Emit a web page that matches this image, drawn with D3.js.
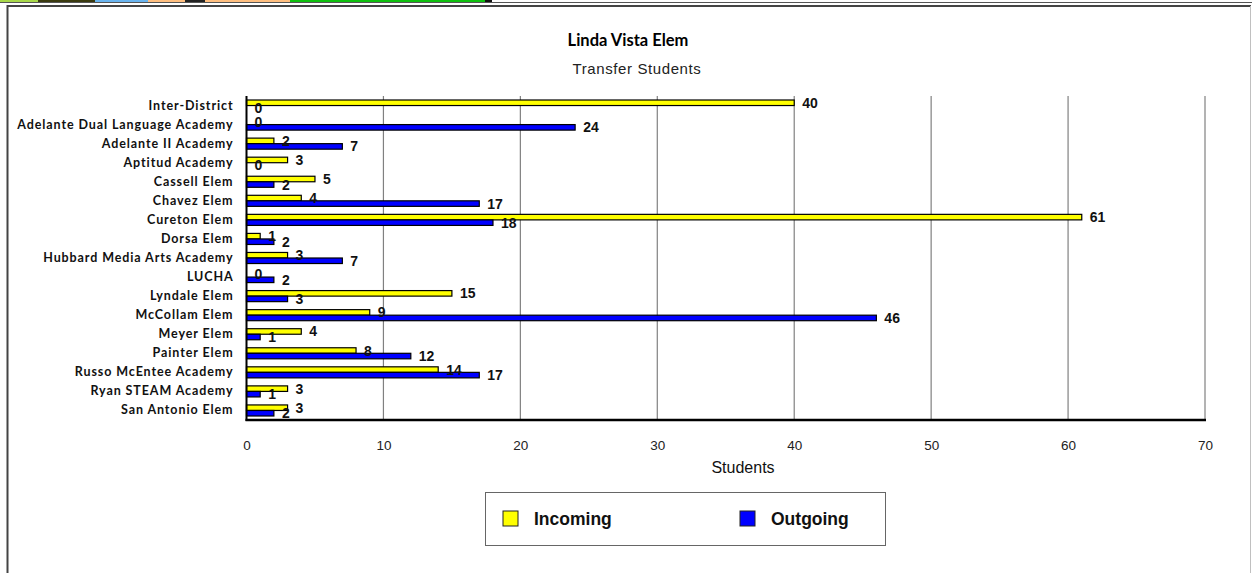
<!DOCTYPE html>
<html><head><meta charset="utf-8">
<script src="https://cdn.jsdelivr.net/npm/d3@7"></script>
<style>html,body{margin:0;padding:0;background:#fff;}svg{display:block;}</style>
</head><body>
<svg id="c" width="1252" height="573"></svg>
<script>
const categories = ["Inter-District","Adelante Dual Language Academy","Adelante II Academy","Aptitud Academy","Cassell Elem","Chavez Elem","Cureton Elem","Dorsa Elem","Hubbard Media Arts Academy","LUCHA","Lyndale Elem","McCollam Elem","Meyer Elem","Painter Elem","Russo McEntee Academy","Ryan STEAM Academy","San Antonio Elem"];
const incoming = [40,0,2,3,5,4,61,1,3,0,15,9,4,8,14,3,3];
const outgoing = [0,24,7,0,2,17,18,2,7,2,3,46,1,12,17,1,2];
const seriesNames = ["Incoming","Outgoing"];
const seriesColors = ["#FFFF00","#0000FF"];
const xTicks = [0,10,20,30,40,50,60,70];

(function(){
const svg = d3.select("#c");
const W = 1252, H = 573;
const pLeft = 246.5, pRight = 1205, pTop = 96, pBottom = 420;

// banner strip remnant at top
const strip = [[0,38,"#a8d84a"],[38,95,"#3a3a10"],[95,148,"#6ab4ee"],[148,185,"#ffbf80"],[185,205,"#222"],[205,290,"#ffbf80"],[290,485,"#10c010"],[485,492,"#111"]];
svg.selectAll("rect.strip").data(strip).join("rect").attr("class","strip")
  .attr("x",d=>d[0]).attr("y",0).attr("width",d=>d[1]-d[0]).attr("height",2.5).attr("fill",d=>d[2]);
svg.append("line").attr("x1",0).attr("x2",W).attr("y1",2.5).attr("y2",2.5).attr("stroke","#555").attr("stroke-width",1);
// outer frame
svg.append("line").attr("x1",7).attr("x2",1251).attr("y1",6).attr("y2",6).attr("stroke","#444").attr("stroke-width",2);
svg.append("line").attr("x1",7.5).attr("x2",7.5).attr("y1",5).attr("y2",H).attr("stroke","#444").attr("stroke-width",2);
svg.append("line").attr("x1",1250.5).attr("x2",1250.5).attr("y1",6).attr("y2",H).attr("stroke","#c0c0c0").attr("stroke-width",1);

const x = d3.scaleLinear().domain([0,70]).range([pLeft,pRight]);
const y = d3.scaleBand().domain(categories).range([pTop,pBottom]).paddingInner(0.42).paddingOuter(0.21);
const sub = d3.scaleBand().domain(seriesNames).range([0,y.bandwidth()]);

// titles
svg.append("text").attr("x",628).attr("y",40).attr("text-anchor","middle").attr("dominant-baseline","central")
  .style("font-family","Lato, 'Open Sans', sans-serif").style("font-weight","bold").style("font-size","16.5px").text("Linda Vista Elem");
svg.append("text").attr("x",637).attr("y",68).attr("text-anchor","middle").attr("dominant-baseline","central")
  .style("font-family","'Liberation Sans', Arial, sans-serif").style("font-size","15px").style("letter-spacing","0.6px").attr("fill","#222").text("Transfer Students");

// gridlines
svg.append("g").selectAll("line").data(xTicks.slice(1)).join("line")
  .attr("x1",d=>x(d)).attr("x2",d=>x(d)).attr("y1",pTop).attr("y2",pBottom)
  .attr("stroke","#808080").attr("stroke-width",1.2);

// x axis
const xAxis = d3.axisBottom(x).tickValues(xTicks).tickSize(0).tickPadding(20);
const gx = svg.append("g").attr("transform",`translate(0,${pBottom})`).call(xAxis);
gx.select(".domain").remove();
gx.selectAll("text").style("font-family","'Liberation Sans', Arial, sans-serif").style("font-size","13.5px").attr("fill","#222");
svg.append("text").attr("x",743).attr("y",467).attr("text-anchor","middle").attr("dominant-baseline","central")
  .style("font-family","'Liberation Sans', Arial, sans-serif").style("font-size","16px").attr("fill","#111").text("Students");

// y axis labels
const yAxis = d3.axisLeft(y).tickSize(0).tickPadding(13);
const gy = svg.append("g").attr("transform",`translate(${pLeft},0)`).call(yAxis);
gy.select(".domain").remove();
gy.selectAll("text").style("font-family","Lato, 'Open Sans', sans-serif").style("font-weight","bold").style("font-size","12.5px").style("letter-spacing","0.9px").attr("fill","#111");

// bars
const data = [];
categories.forEach((c,i)=>[incoming[i],outgoing[i]].forEach((v,j)=>data.push({c, s:seriesNames[j], color:seriesColors[j], v})));
svg.append("g").selectAll("rect").data(data.filter(d=>d.v>0)).join("rect")
  .attr("x",x(0)).attr("y",d=>y(d.c)+sub(d.s))
  .attr("width",d=>x(d.v)-x(0)).attr("height",sub.bandwidth())
  .attr("fill",d=>d.color).attr("stroke","#000").attr("stroke-width",1.2);

// axis lines
svg.append("line").attr("x1",pLeft).attr("x2",pLeft).attr("y1",pTop).attr("y2",pBottom+1).attr("stroke","#000").attr("stroke-width",2);
svg.append("line").attr("x1",pLeft-1).attr("x2",pRight+1).attr("y1",pBottom).attr("y2",pBottom).attr("stroke","#000").attr("stroke-width",2.5);

// value labels
svg.append("g").selectAll("text").data(data).join("text")
  .attr("x",d=>x(d.v)+8).attr("y",d=>y(d.c)+sub(d.s)+sub.bandwidth()/2)
  .attr("dominant-baseline","central")
  .style("font-family","'Liberation Sans', Arial, sans-serif").style("font-weight","bold").style("font-size","14px").attr("fill","#111")
  .text(d=>d.v);

// legend
svg.append("rect").attr("x",485.5).attr("y",492.5).attr("width",400).attr("height",53).attr("fill","#fff").attr("stroke","#666").attr("stroke-width",1);
const lx = [503,740];
const lg = svg.append("g").selectAll("g").data(seriesNames).join("g").attr("transform",(d,i)=>`translate(${lx[i]},511)`);
lg.append("rect").attr("width",15).attr("height",15).attr("fill",(d,i)=>seriesColors[i]).attr("stroke","#222").attr("stroke-width",1);
lg.append("text").attr("x",31).attr("y",8).attr("dominant-baseline","central")
  .style("font-family","'Liberation Sans', Arial, sans-serif").style("font-weight","bold").style("font-size","17.5px").attr("fill","#111").text(d=>d);
})();
</script>
</body></html>
